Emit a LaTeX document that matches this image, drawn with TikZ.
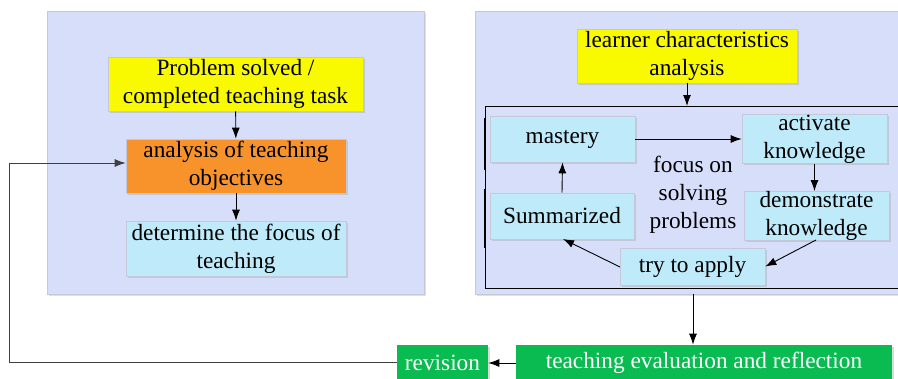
\documentclass[tikz,border=0pt]{standalone}
\usepackage{fontspec}
\setmainfont{Liberation Serif}
\usetikzlibrary{arrows.meta,shadows}
\definecolor{panel}{HTML}{D6DEFA}
\definecolor{ybox}{HTML}{F9FA00}
\definecolor{obox}{HTML}{F7932A}
\definecolor{bbox}{HTML}{BEEAF9}
\definecolor{gbox}{HTML}{0ABB52}
\definecolor{shade}{HTML}{C4C8D8}
\tikzset{
  panelbox/.style={draw=shade, line width=0.8pt, fill=panel, inner sep=0pt,
    drop shadow={shadow xshift=2pt, shadow yshift=-2pt, fill=black!30, opacity=0.4}},
  fbox/.style={draw=shade, line width=0.6pt, inner sep=0pt, align=center, font=\fontsize{23.3}{28}\selectfont,
    drop shadow={shadow xshift=1.5pt, shadow yshift=-1.5pt, fill=black!35, opacity=0.4}},
  arr/.style={-{Latex[length=11pt,width=8pt]}, line width=0.9pt, black},
}
\begin{document}
\begin{tikzpicture}[x=1pt,y=-1pt]
\useasboundingbox (0,0) rectangle (898,378);
\clip (0,0) rectangle (898,378);
% panels
\node[panelbox, minimum width=377pt, minimum height=283pt, anchor=north west] (lp) at (47,11) {};
\node[panelbox, minimum width=440pt, minimum height=283pt, anchor=north west] (rp) at (475,11) {};
% left panel nodes
\node[fbox, fill=ybox, minimum width=255pt, minimum height=54pt] (ps) at (235.5,84) {Problem solved /\\completed teaching task};
\node[fbox, fill=obox, minimum width=220pt, minimum height=54pt] (ao) at (236,166) {analysis of teaching\\objectives};
\node[fbox, fill=bbox, minimum width=220pt, minimum height=55pt] (df) at (236,248.5) {determine the focus of\\teaching};
\draw[arr] (ps) -- (ao);
\draw[arr] (ao) -- (df);
% right panel
\node[fbox, fill=ybox, minimum width=220pt, minimum height=54pt] (lc) at (687,56) {learner characteristics\\analysis};
\node[draw=black, line width=0.8pt, inner sep=0pt, minimum width=440pt, minimum height=182pt, anchor=north west] (ir) at (485,106) {};
\coordinate (irtop) at (687,106);
\draw[arr] (lc.south) -- (irtop);
\draw[line width=1.8pt] (485,118) -- (485,170);
\draw[line width=1.8pt] (485,189) -- (485,248);
\node[fbox, fill=bbox, minimum width=145pt, minimum height=46pt] (ma) at (562.5,139) {mastery};
\node[fbox, fill=bbox, minimum width=145pt, minimum height=46pt] (ak) at (814.5,139) {activate\\knowledge};
\node[fbox, fill=bbox, minimum width=144pt, minimum height=46pt] (su) at (562,216) {Summarized};
\node[fbox, fill=bbox, minimum width=145pt, minimum height=46pt] (dk) at (816.5,216) {demonstrate\\knowledge};
\node[fbox, fill=bbox, minimum width=145pt, minimum height=37pt] (ta) at (692.5,266.5) {try to apply};
\node[align=center, inner sep=0pt, font=\fontsize{23.3}{28}\selectfont] (fo) at (693,195) {focus on\\solving\\problems};
\draw[arr] (ma.east) -- (ak.west);
\draw[arr] (ak.south) -- (ak.south |- dk.north);
\coordinate (dkb) at (816,240);
\draw[arr] (dkb) -- (ta.east);
\coordinate (tal) at (620,267);
\coordinate (sub) at (563,239);
\draw[arr] (tal) -- (sub);
\draw[arr] (su.north) -- (ma.south);
% bottom
\node[fbox, draw=none, fill=gbox, text=white, minimum width=376pt, minimum height=36pt] (ev) at (704,363) {teaching evaluation and reflection};
\node[fbox, draw=none, fill=gbox, text=white, minimum width=91pt, minimum height=36pt] (rv) at (442.5,363) {revision};
\coordinate (rpb) at (693,294);
\draw[arr] (rpb) -- (rpb |- ev.north);
\draw[arr] (ev.west) -- (rv.east);
\coordinate (fb1) at (9,362);
\coordinate (fb2) at (9,163);
\draw[arr, draw=black!75] (rv.west |- fb1) -- (fb1) -- (fb2) -- (ao.west |- fb2);
\end{tikzpicture}
\end{document}
